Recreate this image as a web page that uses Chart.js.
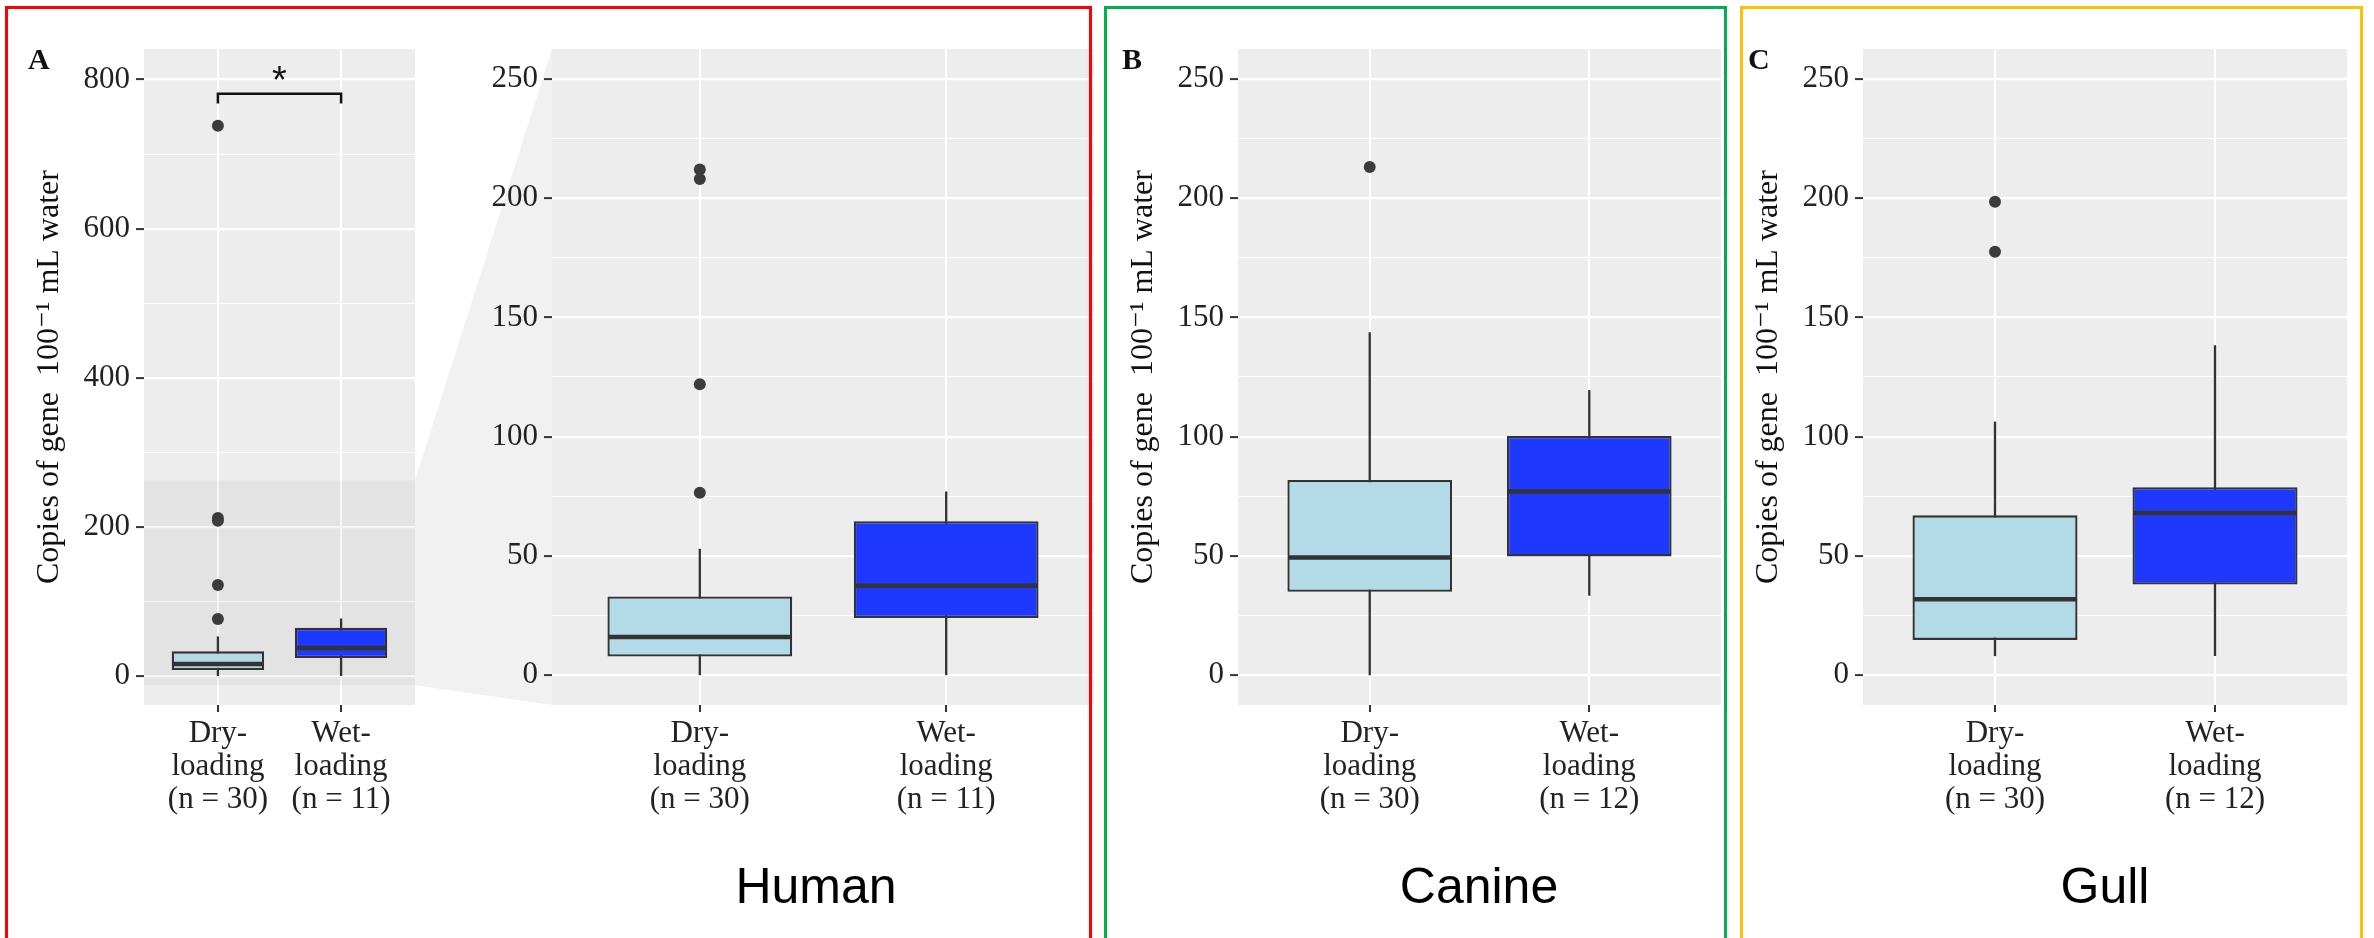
<!DOCTYPE html>
<html>
<head>
<meta charset="utf-8">
<script src="https://cdn.jsdelivr.net/npm/chart.js@4.4.1/dist/chart.umd.min.js"></script>
<style>
  html, body { margin: 0; padding: 0; background: #fff; }
  body { width: 2374px; height: 938px; position: relative; overflow: hidden; }
  canvas { position: absolute; top: 0; }
  .frame { position: absolute; top: 6px; height: 1000px; border: 3px solid; box-sizing: border-box; z-index: 2; pointer-events: none; }
  .tag { position: absolute; top: 44px; font: bold 30px/30px 'Liberation Serif', 'DejaVu Serif', serif; color: #111; z-index: 3; }
  .title { position: absolute; top: 861px; font: 50px/50px 'Liberation Sans', Arial, sans-serif; color: #000; z-index: 3; transform: translateX(-50%); white-space: nowrap; }
</style>
</head>
<body>
<canvas id="bg" width="2374" height="938" style="left:0;z-index:0"></canvas>
<canvas id="chartA" width="440" height="938" style="left:0;z-index:1"></canvas>
<canvas id="chartZoom" width="660" height="938" style="left:440px;z-index:1"></canvas>
<canvas id="chartB" width="630" height="938" style="left:1100px;z-index:1"></canvas>
<canvas id="chartC" width="641" height="938" style="left:1733px;z-index:1"></canvas>

<div class="frame" style="left:5px;width:1087px;border-color:#ff0000"></div>
<div class="frame" style="left:1104px;width:623px;border-color:#00b050"></div>
<div class="frame" style="left:1740px;width:623px;border-color:#ffc000"></div>

<div class="tag" style="left:28px">A</div>
<div class="tag" style="left:1122px">B</div>
<div class="tag" style="left:1748px">C</div>

<div class="title" style="left:816px">Human</div>
<div class="title" style="left:1479px">Canine</div>
<div class="title" style="left:2105px">Gull</div>

<script>
// categories
const humanLabels = [['Dry-', 'loading', '(n = 30)'], ['Wet-', 'loading', '(n = 11)']];
const canineLabels = [['Dry-', 'loading', '(n = 30)'], ['Wet-', 'loading', '(n = 12)']];
const gullLabels = [['Dry-', 'loading', '(n = 30)'], ['Wet-', 'loading', '(n = 12)']];

// Human
const humanLow = [0, 0];
const humanQ1 = [7.8, 24];
const humanMedian = [16, 37.5];
const humanQ3 = [33, 64.5];
const humanHigh = [53, 77];
const humanOutliers = [[738, 212, 208, 122, 76.5], []];

// Canine
const canineLow = [0, 33.3];
const canineQ1 = [35, 49.8];
const canineMedian = [49.3, 77];
const canineQ3 = [81.8, 100.3];
const canineHigh = [143.8, 119.5];
const canineOutliers = [[213], []];

// Gull
const gullLow = [8, 8];
const gullQ1 = [14.8, 38];
const gullMedian = [31.8, 68];
const gullQ3 = [67, 78.8];
const gullHigh = [106.3, 138.3];
const gullOutliers = [[198.5, 177.5], []];

// axes
const fullRange = [-39, 841];
const zoomRange = [-12.5, 262.5];
const fullMajor = [0, 200, 400, 600, 800];
const fullMinor = [100, 300, 500, 700];
const zoomMajor = [0, 50, 100, 150, 200, 250];
const zoomMinor = [25, 75, 125, 175, 225];
const yTitle = 'Copies of gene  100\u207B\u00B9 mL water';

// significance bracket (panel A)
const sigBracket = { from: 1, to: 2, y: 781, drop: 768, text: '*' };

const serif = "'Liberation Serif', 'DejaVu Serif', serif";
const boxFills = ['#b3dbe7', '#1f38ff'];
const ink = '#333333';

// gray panel, whiskers, medians, bracket
const boxParts = {
    id: 'boxParts',
    beforeDraw(chart) {
        const { ctx, chartArea } = chart;
        ctx.save();
        ctx.fillStyle = '#ededed';
        ctx.fillRect(chartArea.left, chartArea.top, chartArea.width, chartArea.height);
        ctx.restore();
    },
    beforeDatasetsDraw(chart, args, opts) {
        const { ctx, chartArea, scales: { x, y } } = chart;
        ctx.save();
        if (opts.highlight) {
            const t = y.getPixelForValue(opts.highlight[1]);
            const b = y.getPixelForValue(opts.highlight[0]);
            ctx.fillStyle = 'rgba(0,0,0,0.04)';
            ctx.fillRect(chartArea.left, t, chartArea.width, b - t);
        }
        ctx.strokeStyle = ink;
        ctx.lineWidth = 2.3;
        opts.low.forEach((lo, i) => {
            const px = x.getPixelForValue(i + 1);
            ctx.beginPath();
            ctx.moveTo(px, y.getPixelForValue(lo));
            ctx.lineTo(px, y.getPixelForValue(opts.high[i]));
            ctx.stroke();
        });
        ctx.restore();
    },
    afterDatasetsDraw(chart, args, opts) {
        const { ctx, scales: { x, y } } = chart;
        const bars = chart.getDatasetMeta(0).data;
        ctx.save();
        ctx.strokeStyle = ink;
        ctx.lineWidth = 4.5;
        opts.median.forEach((m, i) => {
            const bar = bars[i];
            const py = y.getPixelForValue(m);
            ctx.beginPath();
            ctx.moveTo(bar.x - bar.width / 2 + 1, py);
            ctx.lineTo(bar.x + bar.width / 2 - 1, py);
            ctx.stroke();
        });
        if (opts.bracket) {
            const b = opts.bracket;
            const x1 = x.getPixelForValue(b.from), x2 = x.getPixelForValue(b.to);
            const yt = y.getPixelForValue(b.y), yb = y.getPixelForValue(b.drop);
            ctx.strokeStyle = '#111';
            ctx.lineWidth = 2.5;
            ctx.beginPath();
            ctx.moveTo(x1, yb);
            ctx.lineTo(x1, yt);
            ctx.lineTo(x2, yt);
            ctx.lineTo(x2, yb);
            ctx.stroke();
            ctx.fillStyle = '#111';
            ctx.font = "38px 'Liberation Sans', Arial, sans-serif";
            ctx.textAlign = 'center';
            ctx.textBaseline = 'alphabetic';
            ctx.fillText(b.text, (x1 + x2) / 2, yt - 1);
        }
        ctx.restore();
    }
};

function boxChart(id, o) {
    const outPoints = [];
    o.outliers.forEach((list, i) => list.forEach(v => {
        if (v <= o.range[1]) outPoints.push({ x: i + 1, y: v });
    }));
    const allTicks = o.major.concat(o.minor).sort((a, b) => a - b);

    return new Chart(document.getElementById(id), {
        type: 'bar',
        data: {
            datasets: [
                {
                    data: o.q1.map((v, i) => ({ x: i + 1, y: [v, o.q3[i]] })),
                    backgroundColor: boxFills,
                    borderColor: ink,
                    borderWidth: 2.3,
                    borderSkipped: false,
                    barPercentage: 0.75,
                    categoryPercentage: 1
                },
                {
                    type: 'scatter',
                    data: outPoints,
                    pointRadius: 6,
                    backgroundColor: '#3c3c3c',
                    borderWidth: 0
                }
            ]
        },
        options: {
            responsive: false,
            animation: false,
            devicePixelRatio: 1,
            layout: { padding: { top: 49, right: o.padRight, left: 0, bottom: 0 } },
            plugins: {
                legend: { display: false },
                tooltip: { enabled: false },
                boxParts: {
                    low: o.low, high: o.high, median: o.median,
                    highlight: o.highlight, bracket: o.bracket
                }
            },
            scales: {
                x: {
                    type: 'linear',
                    min: 0.4,
                    max: 2.6,
                    offset: false,
                    afterBuildTicks: s => { s.ticks = o.labels.map((_, i) => ({ value: i + 1 })); },
                    afterFit: s => { s.height = 233; },
                    border: { display: false },
                    grid: { offset: false, color: '#ffffff', lineWidth: 2, tickColor: ink, tickLength: 7, tickWidth: 2 },
                    ticks: {
                        callback: v => o.labels[v - 1],
                        font: { family: serif, size: 31, lineHeight: 1.065 },
                        color: '#222',
                        padding: 5,
                        maxRotation: 0,
                        autoSkip: false
                    }
                },
                y: {
                    min: o.range[0],
                    max: o.range[1],
                    afterBuildTicks: s => { s.ticks = allTicks.map(v => ({ value: v })); },
                    afterFit: s => { s.width = o.axisWidth; },
                    border: { display: false },
                    grid: {
                        color: '#ffffff',
                        lineWidth: c => o.major.includes(c.tick.value) ? 2.2 : 1.1,
                        tickColor: c => o.major.includes(c.tick.value) ? ink : 'rgba(0,0,0,0)',
                        tickLength: 8,
                        tickWidth: 2
                    },
                    ticks: {
                        callback: v => o.major.includes(v) ? String(v) : '',
                        font: { family: serif, size: 31 },
                        color: '#222',
                        padding: 6,
                        autoSkip: false
                    },
                    title: {
                        display: !!o.title,
                        text: o.title,
                        font: { family: serif, size: 32 },
                        color: '#111',
                        padding: { top: o.titlePad || 0, bottom: 0 }
                    }
                }
            }
        },
        plugins: [boxParts]
    });
}

const chartA = boxChart('chartA', {
    labels: humanLabels, low: humanLow, q1: humanQ1, median: humanMedian, q3: humanQ3, high: humanHigh,
    outliers: humanOutliers, range: fullRange, major: fullMajor, minor: fullMinor,
    axisWidth: 144, padRight: 25, title: yTitle, titlePad: 30,
    highlight: zoomRange, bracket: sigBracket
});

const chartZoom = boxChart('chartZoom', {
    labels: humanLabels, low: humanLow, q1: humanQ1, median: humanMedian, q3: humanQ3, high: humanHigh,
    outliers: humanOutliers, range: zoomRange, major: zoomMajor, minor: zoomMinor,
    axisWidth: 112, padRight: 3
});

boxChart('chartB', {
    labels: canineLabels, low: canineLow, q1: canineQ1, median: canineMedian, q3: canineQ3, high: canineHigh,
    outliers: canineOutliers, range: zoomRange, major: zoomMajor, minor: zoomMinor,
    axisWidth: 138, padRight: 9, title: yTitle, titlePad: 24
});

boxChart('chartC', {
    labels: gullLabels, low: gullLow, q1: gullQ1, median: gullMedian, q3: gullQ3, high: gullHigh,
    outliers: gullOutliers, range: zoomRange, major: zoomMajor, minor: zoomMinor,
    axisWidth: 130, padRight: 27, title: yTitle, titlePad: 16
});

// zoom funnel from panel A's highlighted band to the enlarged panel
const bg = document.getElementById('bg').getContext('2d');
const aArea = chartA.chartArea;
const zArea = chartZoom.chartArea;
const zoomLeft = 440;
bg.fillStyle = '#f1f1f1';
bg.beginPath();
bg.moveTo(aArea.right, chartA.scales.y.getPixelForValue(zoomRange[1]));
bg.lineTo(zoomLeft + zArea.left, zArea.top);
bg.lineTo(zoomLeft + zArea.left, zArea.bottom);
bg.lineTo(aArea.right, chartA.scales.y.getPixelForValue(zoomRange[0]));
bg.closePath();
bg.fill();
</script>
</body>
</html>
